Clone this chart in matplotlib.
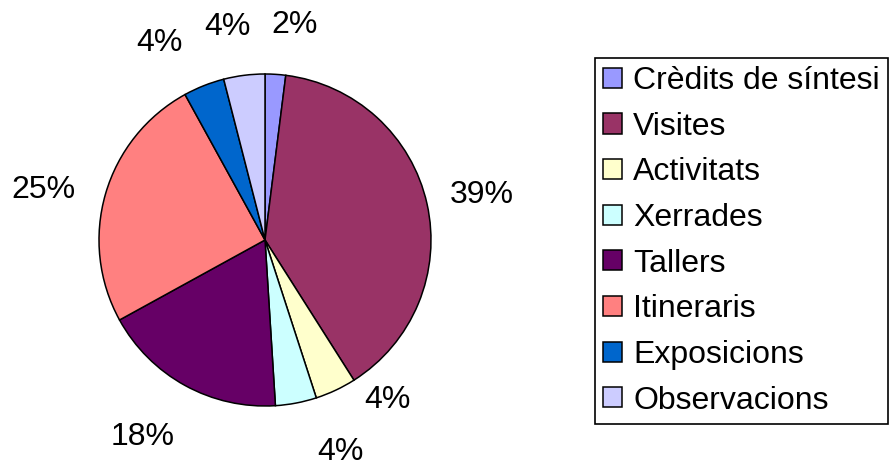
import matplotlib
matplotlib.use("Agg")
from matplotlib import pyplot as plt

plt.rcParams['font.family'] = ['Liberation Sans', 'DejaVu Sans']

#%%
categories = ["Crèdits de síntesi", "Visites", "Activitats", "Xerrades",
              "Tallers", "Itineraris", "Exposicions", "Observacions"]
values = [2, 39, 4, 4, 18, 25, 4, 4]
colors = ["#9999FF", "#993366", "#FFFFCC", "#CCFFFF",
          "#660066", "#FF8080", "#0066CC", "#CCCCFF"]

# where each percentage label sits (pixels, y measured from the top)
label_pos = [(295, 25), (482, 195), (387, 400), (340, 452),
             (143, 437), (43, 190), (159, 43), (227, 27)]

#%%
W, H = 889, 467
fig = plt.figure(figsize=(W / 100, H / 100), dpi=100)
ax = fig.add_axes([0, 0, 1, 1])

wedges, texts, autotexts = ax.pie(values, colors=colors, startangle=90, counterclock=False,
                                  center=(265, H - 240), radius=166,
                                  autopct='%1.0f%%', pctdistance=1.3,
                                  wedgeprops=dict(edgecolor='black', linewidth=1.1),
                                  textprops=dict(fontsize=23))
# pie() sets its own limits, so fix them afterwards
ax.set_xlim(0, W)
ax.set_ylim(0, H)
ax.set_aspect('equal')
ax.axis('off')

for t, (x, y) in zip(autotexts, label_pos):
    t.set_position((x, H - y))
    t.set_ha('center')
    t.set_va('center')

leg = ax.legend(wedges, categories, loc='upper left',
                bbox_to_anchor=(595 / W, 1 - 58 / H), bbox_transform=fig.transFigure,
                fontsize=23, frameon=True, fancybox=False, shadow=False, framealpha=1,
                handlelength=0.6, handleheight=0.6, handletextpad=0.35,
                labelspacing=0.49, borderpad=0.25, borderaxespad=0)
leg.get_frame().set_edgecolor('black')
leg.get_frame().set_facecolor('white')
leg.get_frame().set_linewidth(1.2)

fig.savefig("out.png", dpi=100)
